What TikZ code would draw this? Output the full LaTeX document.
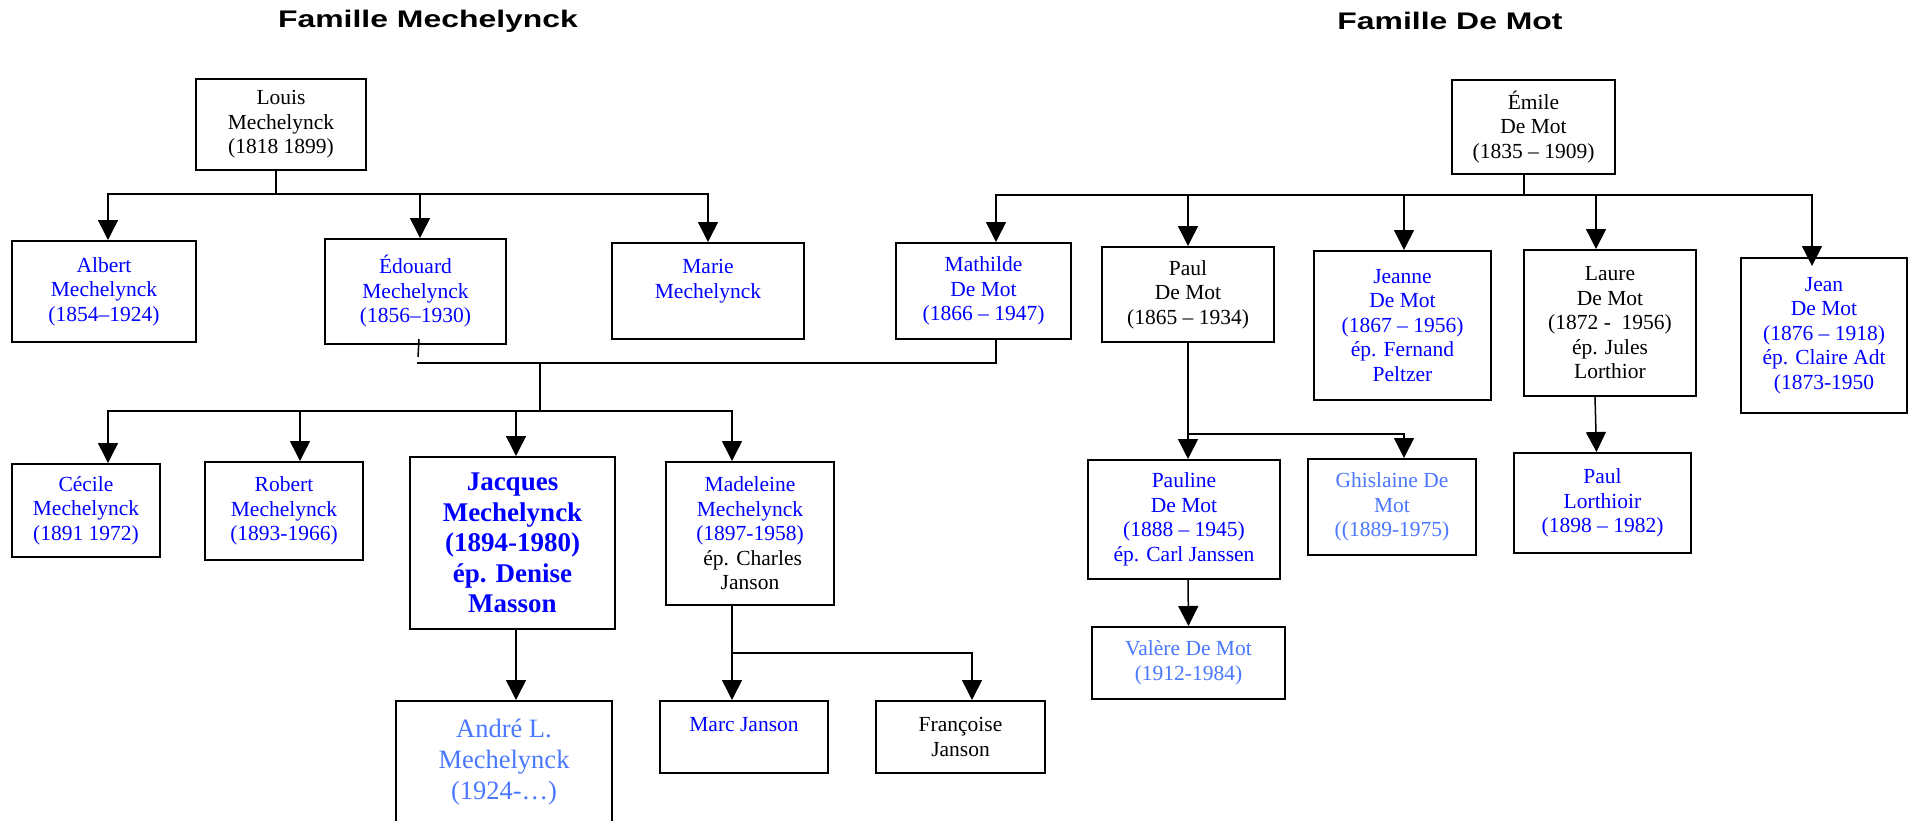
\documentclass[tikz,border=0pt]{standalone}
\usepackage{fontspec}
\setmainfont{Liberation Serif}
\newfontfamily\titlefont[FakeStretch=1.33]{Liberation Sans}
\usetikzlibrary{arrows.meta}
\definecolor{NameBlue}{HTML}{0000FF}
\definecolor{SoftBlue}{HTML}{4A78FF}
\definecolor{LineDark}{HTML}{000000}

\begin{document}
\begin{tikzpicture}[x=1pt,y=-1pt,every node/.style={font=\fontsize{21.5}{24.5}\selectfont},person/.style={draw=LineDark,line width=2pt,align=center,inner sep=0pt},boxsize/.style 2 args={minimum width=#1pt,minimum height=#2pt},kin/.style={person,text=NameBlue},elder/.style={person,text=black},faded/.style={person,text=SoftBlue},famtitle/.style={font=\titlefont\bfseries\fontsize{24}{28}\selectfont},link/.style={draw=LineDark,line width=1.5pt},arrow/.style={link,-{Triangle[length=20pt,width=20pt]}}]
\clip (0,0) rectangle (1910,820);
\fill[white] (0,0) rectangle (1910,820);
\node[famtitle] (titlem) at (428,21){Famille Mechelynck};\node[famtitle] (titled) at (1450,21){Famille De Mot};
\node[elder,boxsize={170}{91}] (louis) at (281,124.5){Louis\\Mechelynck\\(1818 1899)};
\node[kin,boxsize={184}{101}] (albert) at (104,291.5){Albert\\Mechelynck\\(1854--1924)};\node[kin,boxsize={181}{105}] (edouard) at (415.5,291.5){Édouard\\Mechelynck\\(1856--1930)};\node[kin,boxsize={192}{96}] (marie) at (708,291){Marie\\Mechelynck\\\mbox{}};
\node[kin,boxsize={175}{96}] (mathilde) at (983.5,291){Mathilde\\De Mot\\(1866 -- 1947)};
\node[elder,boxsize={163}{94}] (emile) at (1533.5,127){Émile\\De Mot\\(1835 -- 1909)};
\node[elder,boxsize={172}{95}] (paul) at (1188,294.5){Paul\\De Mot\\(1865 -- 1934)};\node[kin,boxsize={177}{149}] (jeanne) at (1402.5,325.5){Jeanne\\De Mot\\(1867 -- 1956)\\ép. Fernand\\Peltzer};
\node[elder,boxsize={172}{146}] (laure) at (1610,323){Laure\\De Mot\\(1872 -\ \ 1956)\\ép. Jules\\Lorthior};\node[kin,boxsize={166}{155}] (jean) at (1824,335.5){Jean\\De Mot\\(1876 -- 1918)\\ép. Claire Adt\\(1873-1950};
\node[kin,boxsize={148}{93}] (cecile) at (86,510.5){Cécile\\Mechelynck\\(1891 1972)};\node[kin,boxsize={158}{98}] (robert) at (284,511){Robert\\Mechelynck\\(1893-1966)};
\node[kin,boxsize={205}{172},font=\bfseries\fontsize{27}{30.5}\selectfont] (jacques) at (512.5,543){Jacques\\Mechelynck\\(1894-1980)\\ép. Denise\\Masson};
\node[kin,boxsize={168}{143}] (madeleine) at (750,533.5){Madeleine\\Mechelynck\\(1897-1958)\\{\color{black}\ ép. Charles}\\{\color{black}Janson}};
\node[faded,boxsize={216}{147},font=\fontsize{26.5}{31}\selectfont] (andre) at (504,774.5){André L.\\Mechelynck\\(1924-…)\\\mbox{}};
\node[kin,boxsize={168}{72}] (marc) at (744,737){Marc Janson\\\mbox{}};\node[elder,boxsize={169}{72}] (francoise) at (960.5,737){Françoise\\Janson};
\node[kin,boxsize={192}{119}] (pauline) at (1184,519.5){Pauline\\De Mot\\(1888 -- 1945)\\ép. Carl Janssen};\node[faded,boxsize={168}{96}] (ghislaine) at (1392,507){Ghislaine De\\Mot\\((1889-1975)};
\node[kin,boxsize={177}{100}] (paull) at (1602.5,503){Paul\\Lorthioir\\(1898 -- 1982)};\node[faded,boxsize={193}{72}] (valere) at (1188.5,663){Valère De Mot\\(1912-1984)};
\coordinate (lbar) at (276,194);\draw[link] ([xshift=-5pt]louis.south)--(lbar);
\draw[arrow] (lbar)-|([xshift=4pt]albert.north);\draw[arrow] (lbar)-|([xshift=4.5pt]edouard.north);\draw[arrow] (lbar)-|(marie.north);
\draw[link] ([xshift=3.5pt,yshift=6pt]edouard.south)--++(-1,18);
\coordinate (wed) at (417,363);\draw[link] (wed)-|([xshift=12.5pt]mathilde.south);
\coordinate (wedstem) at (540,363);\coordinate (gbar) at (540,411);\draw[link] (wedstem)--(gbar);
\draw[arrow] (gbar)-|([xshift=22pt]cecile.north);\draw[arrow] (gbar)-|([xshift=16pt]robert.north);\draw[arrow] (gbar)-|([xshift=3.5pt]jacques.north);\draw[arrow] (gbar)-|([xshift=-18pt]madeleine.north);
\draw[arrow] ([xshift=3.5pt]jacques.south)--([xshift=12pt]andre.north);
\coordinate (mbar) at (732,653);\draw[link] ([xshift=-18pt]madeleine.south)--(mbar);
\draw[arrow] (mbar)--([xshift=-12pt]marc.north);\draw[arrow] (mbar)-|([xshift=11.5pt]francoise.north);
\coordinate (ebar) at (1524,195);\draw[link] ([xshift=-9.5pt]emile.south)--(ebar);
\draw[arrow] (ebar)-|([xshift=12.5pt]mathilde.north);\draw[arrow] (ebar)-|(paul.north);\draw[arrow] (ebar)-|([xshift=1.5pt]jeanne.north);\draw[arrow] (ebar)-|([xshift=-14pt]laure.north);\draw[arrow] (ebar)-|([xshift=-12pt,yshift=-9pt]jean.north);
\coordinate (pbar) at (1188,434);\draw[link] (paul.south)--(pbar);
\draw[arrow] (pbar)--([xshift=4pt]pauline.north);\draw[arrow] (pbar)-|([xshift=12pt]ghislaine.north);
\draw[arrow] ([xshift=-15pt]laure.south)--([xshift=-6pt]paull.north);
\draw[arrow] ([xshift=4pt]pauline.south)--(valere.north);
\end{tikzpicture}
\end{document}
